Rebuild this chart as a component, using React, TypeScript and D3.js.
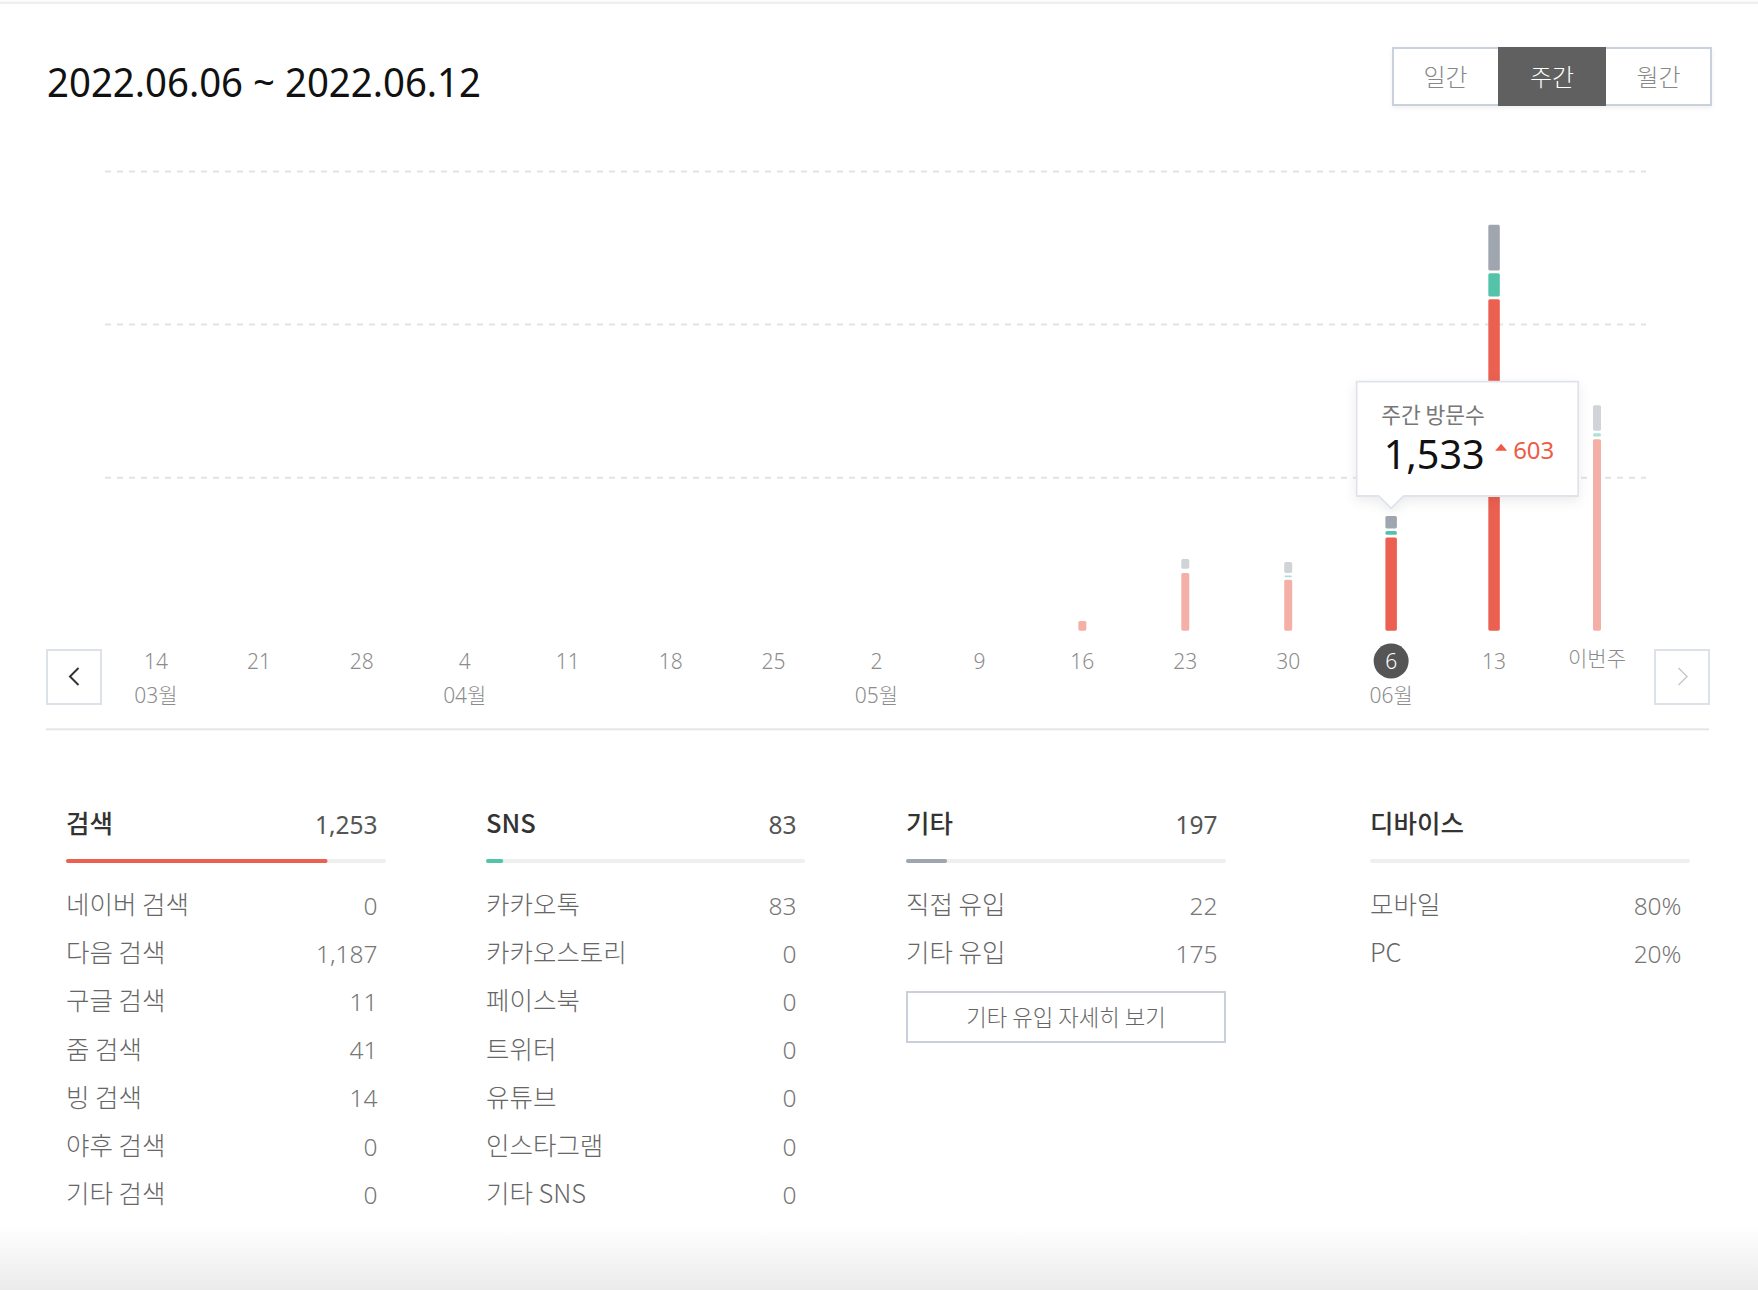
import React from "react";
import * as d3 from "d3";

// ---- data ----
const weekLabels = ["14", "21", "28", "4", "11", "18", "25", "2", "9", "16", "23", "30", "6", "13", "이번주"];
const monthIndex = [0, 3, 7, 12];
const monthLabels = ["03월", "04월", "05월", "06월"];
const searchValues = [0, 0, 0, 0, 0, 0, 0, 0, 0, 161, 788, 700, 1253, 4366, 2536];
const snsValues = [0, 0, 0, 0, 0, 0, 0, 0, 0, 0, 22, 55, 83, 340, 78];
const otherValues = [0, 0, 0, 0, 0, 0, 0, 0, 0, 0, 161, 175, 197, 631, 366];
const gridTicks = [2000, 4000, 6000];
const selectedIndex = 12;
const highlightIndex = [12, 13];

const periodTitle = "2022.06.06 ~ 2022.06.12";
const periodButtons = ["일간", "주간", "월간"];
const activeButton = 1;

const searchRows = ["네이버 검색", "다음 검색", "구글 검색", "줌 검색", "빙 검색", "야후 검색", "기타 검색"];
const searchRowValues = [0, 1187, 11, 41, 14, 0, 0];
const snsRows = ["카카오톡", "카카오스토리", "페이스북", "트위터", "유튜브", "인스타그램", "기타 SNS"];
const snsRowValues = [83, 0, 0, 0, 0, 0, 0];
const otherRows = ["직접 유입", "기타 유입"];
const otherRowValues = [22, 175];
const deviceRows = ["모바일", "PC"];
const deviceRowValues = ["80%", "20%"];

const COLORS = {
  search: "#eb6050",
  sns: "#55c3a9",
  other: "#a0a6af",
  searchFade: "#f4b0a7",
  snsFade: "#abe2d5",
  otherFade: "#d0d3d8",
};

const FONT = "'Noto Sans', 'Noto Sans CJK KR', sans-serif";
const KFONT = "'Noto Sans CJK KR', 'Noto Sans', sans-serif";

export default function App() {
  const W = 1758, H = 1290;
  const x = d3.scalePoint<number>().domain(d3.range(weekLabels.length)).range([156, 1597]);
  const y = d3.scaleLinear().domain([0, 6000]).range([630.7, 171.5]);
  const gap = 2.6;
  const fmt = d3.format(",");

  const totals = weekLabels.map((_, i) => searchValues[i] + snsValues[i] + otherValues[i]);
  const selTotal = totals[selectedIndex];
  const diff = selTotal - totals[selectedIndex - 1];

  const bars: React.ReactNode[] = [];
  weekLabels.forEach((_, i) => {
    const hl = highlightIndex.includes(i);
    const bw = hl ? 11.5 : 8;
    const segs = [
      { v: searchValues[i], c: hl ? COLORS.search : COLORS.searchFade },
      { v: snsValues[i], c: hl ? COLORS.sns : COLORS.snsFade },
      { v: otherValues[i], c: hl ? COLORS.other : COLORS.otherFade },
    ];
    let cum = 0;
    segs.forEach((s, k) => {
      const y0 = y(cum);
      const y1 = y(cum + s.v);
      cum += s.v;
      const top = y1 + gap;
      const h = y0 - top;
      if (s.v > 0 && h > 0.5) {
        bars.push(
          <rect key={`b${i}-${k}`} x={(x(i) as number) - bw / 2} y={top} width={bw} height={h} rx={1.6} fill={s.c} />
        );
      }
    });
  });

  const sx = x(selectedIndex) as number;
  // tooltip geometry relative to selected bar
  const tipX = sx - 34.5, tipY = 381.7, tipW = 221.6, tipH = 114.3;

  const colDefs = [
    { x0: 66, x1: 386, title: "검색", total: fmt(d3.sum(searchRowValues)), frac: d3.sum(searchRowValues) / selTotal, color: COLORS.search, rows: searchRows, vals: searchRowValues.map(fmt) },
    { x0: 486, x1: 805, title: "SNS", total: fmt(d3.sum(snsRowValues)), frac: d3.sum(snsRowValues) / selTotal, color: COLORS.sns, rows: snsRows, vals: snsRowValues.map(fmt) },
    { x0: 906, x1: 1226, title: "기타", total: fmt(d3.sum(otherRowValues)), frac: d3.sum(otherRowValues) / selTotal, color: COLORS.other, rows: otherRows, vals: otherRowValues.map(fmt) },
    { x0: 1370, x1: 1690, title: "디바이스", total: "", frac: 0, color: COLORS.other, rows: deviceRows, vals: deviceRowValues },
  ];

  return (
    <div style={{ position: "absolute", left: 0, top: 0 }}>
      <svg width={W} height={H} style={{ display: "block", background: "#fff" }}>
        <defs>
          <linearGradient id="bottomFade" x1="0" y1="0" x2="0" y2="1">
            <stop offset="0" stopColor="#ffffff" />
            <stop offset="1" stopColor="#ebebeb" />
          </linearGradient>
          <filter id="tipShadow" x="-20%" y="-20%" width="140%" height="150%">
            <feDropShadow dx="0" dy="4" stdDeviation="6" floodColor="#000" floodOpacity="0.08" />
          </filter>
          <filter id="btnShadow" x="-5%" y="-20%" width="110%" height="150%">
            <feDropShadow dx="0" dy="2" stdDeviation="2" floodColor="#000" floodOpacity="0.06" />
          </filter>
        </defs>

        {/* top border */}
        <rect x={0} y={1.5} width={W} height={2.5} fill="#efefef" />
        {/* bottom fade */}
        <rect x={0} y={1225} width={W} height={65} fill="url(#bottomFade)" />

        {/* title */}
        <text x={47} y={97} fontFamily={FONT} fontSize={40} fill="#111" textLength={434} lengthAdjust="spacingAndGlyphs">
          {periodTitle}
        </text>

        {/* period buttons */}
        <g filter="url(#btnShadow)">
          <rect x={1393} y={48} width={318} height={57} fill="#fff" stroke="#c9d1dc" strokeWidth={2} />
        </g>
        {periodButtons.map((b, i) => {
          const bx = [1393, 1498, 1606][i];
          const bw = [105, 108, 105][i];
          return (
            <g key={b}>
              {i === activeButton && <rect x={bx} y={47} width={bw} height={59} fill="#606060" />}
              <text x={bx + bw / 2} y={86} textAnchor="middle" fontFamily={KFONT} fontWeight={300} fontSize={24}
                fill={i === activeButton ? "#fff" : "#888"}>{b}</text>
            </g>
          );
        })}

        {/* gridlines */}
        {gridTicks.map((t) => (
          <line key={t} x1={105} x2={1646} y1={y(t)} y2={y(t)} stroke="#e3e3e3" strokeWidth={2} strokeDasharray="6 6" />
        ))}

        {/* bars */}
        {bars}

        {/* tooltip */}
        <g filter="url(#tipShadow)">
          <path
            d={`M${tipX},${tipY} h${tipW} v${tipH} H${sx + 12.5} L${sx},${tipY + tipH + 12.5} L${sx - 12.5},${tipY + tipH} H${tipX} Z`}
            fill="#fff" stroke="#dfe3ec" strokeWidth={1.8} />
        </g>
        <text x={tipX + 24.5} y={423} fontFamily={KFONT} fontSize={21.5} fill="#777">주간 방문수</text>
        <text x={tipX + 27} y={469} fontFamily={FONT} fontSize={39.5} fill="#111">{fmt(selTotal)}</text>
        <path d={`M${tipX + 138.5},${450.7} l6,-7 l6,7 Z`} fill="#f05a45" />
        <text x={tipX + 156.5} y={458.5} fontFamily={FONT} fontSize={24} fill="#f05a45">{fmt(diff)}</text>

        {/* week labels */}
        <circle cx={sx} cy={661} r={17.5} fill="#555" />
        {weekLabels.map((l, i) => (
          <text key={l + i} x={x(i) as number} y={i === 14 ? 666 : 668.5} textAnchor="middle" fontFamily={FONT}
            fontWeight={300} fontSize={21} fill={i === selectedIndex ? "#fff" : "#8c8c8c"}>{l}</text>
        ))}
        {monthIndex.map((mi, k) => (
          <text key={monthLabels[k]} x={x(mi) as number} y={703} textAnchor="middle" fontFamily={FONT}
            fontWeight={300} fontSize={21} fill="#8c8c8c">{monthLabels[k]}</text>
        ))}

        {/* nav arrows */}
        <rect x={47} y={650} width={54} height={54} fill="#fff" stroke="#dde2ea" strokeWidth={2} />
        <path d="M78.5,668 L70,676.5 L78.5,685" fill="none" stroke="#333" strokeWidth={2} />
        <rect x={1655} y={650} width={54} height={54} fill="#fff" stroke="#dde2ea" strokeWidth={2} />
        <path d="M1678.5,668 L1687,676.5 L1678.5,685" fill="none" stroke="#c8c8c8" strokeWidth={1.5} />

        {/* separator */}
        <rect x={46} y={728.3} width={1663} height={2} fill="#e5e5e5" />

        {/* summary columns */}
        {colDefs.map((c) => {
          const s = d3.scaleLinear().domain([0, 1]).range([0, c.x1 - c.x0]);
          return (
            <g key={c.title}>
              <text x={c.x0} y={833} fontFamily={KFONT} fontWeight={500} fontSize={25.5} fill="#333">{c.title}</text>
              {c.total && (
                <text x={c.x1 - 8.5} y={833.5} textAnchor="end" fontFamily={FONT} fontSize={24.5} fill="#555">{c.total}</text>
              )}
              <rect x={c.x0} y={859} width={c.x1 - c.x0} height={4} rx={2} fill="#efefef" />
              {c.frac > 0 && <rect x={c.x0} y={859} width={Math.max(s(c.frac), 4)} height={4} rx={2} fill={c.color} />}
              {c.rows.map((r, k) => (
                <g key={r}>
                  <text x={c.x0} y={914} fontFamily={KFONT} fontWeight={300} fontSize={25.5} fill="#666"
                    transform={`translate(0,${k * 48.2})`}>{r}</text>
                  <text x={c.x1 - 8.5} y={914.5 + k * 48.2} textAnchor="end" fontFamily={FONT} fontWeight={300} fontSize={24.5} fill="#777">{c.vals[k]}</text>
                </g>
              ))}
            </g>
          );
        })}

        {/* detail button */}
        <rect x={907} y={992} width={318} height={50} fill="#fff" stroke="#c9d0da" strokeWidth={2} />
        <text x={1066} y={1026} textAnchor="middle" fontFamily={KFONT} fontWeight={300} fontSize={22.3} fill="#666">기타 유입 자세히 보기</text>
      </svg>
    </div>
  );
}
